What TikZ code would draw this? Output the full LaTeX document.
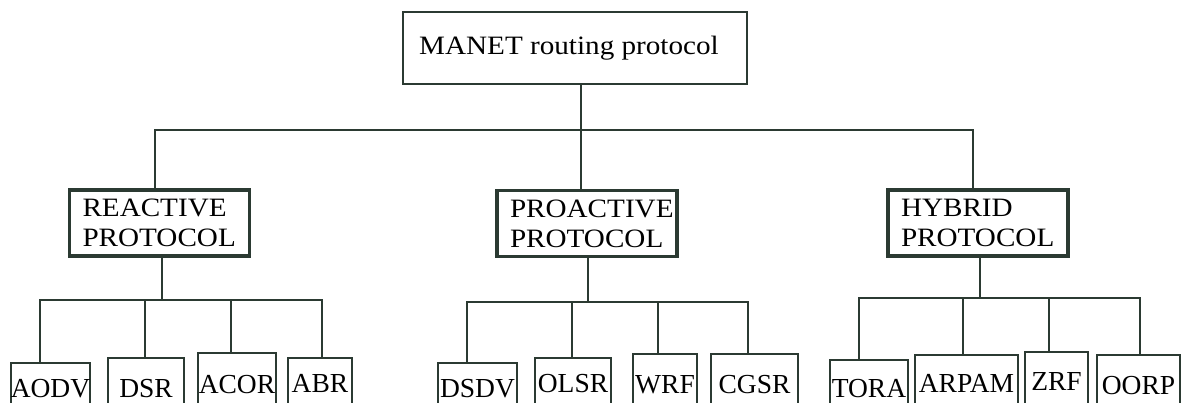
\documentclass[tikz,border=0pt]{standalone}
\usepackage{fontspec}
\setmainfont{Liberation Serif}
\newfontfamily\widefont[FakeStretch=1.1]{Liberation Serif}
\definecolor{ink}{HTML}{2B3A32}
\begin{document}
\begin{tikzpicture}[x=1pt,y=-1pt,
  conn/.style={draw=ink, line width=2pt},
  rootbox/.style={draw=ink, line width=2pt, fill=white, font=\widefont\fontsize{26.5}{30}\selectfont, minimum width=344pt, minimum height=72pt, inner sep=0pt},
  midbox/.style={draw=ink, line width=3.2pt, fill=white, font=\widefont\fontsize{26.5}{30}\selectfont, align=left, text width=154pt, inner xsep=13pt, inner ysep=0pt, minimum height=66pt},
  leaf/.style={draw=ink, line width=2pt, fill=white, font=\fontsize{27.5}{30}\selectfont, inner xsep=0pt, inner ysep=0pt}
]
\clip (0,0) rectangle (1181,403);
\fill[white] (0,0) rectangle (1181,403);

\node[rootbox] (top) at (575,48) {\hspace*{-12pt}MANET routing protocol};

\node[midbox] (rea) at (159.5,223) {REACTIVE\\PROTOCOL};
\node[midbox] (pro) at (587,223.5) {PROACTIVE\\PROTOCOL};
\node[midbox] (hyb) at (978,223) {HYBRID\\PROTOCOL};

\node[leaf, minimum width=77pt, minimum height=51pt] (aodv) at (50.5,388.5) {AODV};
\node[leaf, minimum width=76pt, minimum height=61pt] (dsr) at (146,388.5) {DSR};
\node[leaf, minimum width=78pt, minimum height=64pt] (acor) at (237,385) {ACOR};
\node[leaf, minimum width=64pt, minimum height=51pt] (abr) at (320,383.5) {ABR};

\node[leaf, minimum width=79pt, minimum height=52pt] (dsdv) at (477.5,389) {DSDV};
\node[leaf, minimum width=76pt, minimum height=51pt] (olsr) at (573,383.5) {OLSR};
\node[leaf, minimum width=64pt, minimum height=62pt] (wrf) at (665,385) {WRF};
\node[leaf, minimum width=87pt, minimum height=62pt] (cgsr) at (754.5,385) {CGSR};

\node[leaf, minimum width=78pt, minimum height=58pt] (tora) at (869,389) {TORA};
\node[leaf, minimum width=103pt, minimum height=56pt] (arpam) at (966.5,383) {ARPAM};
\node[leaf, minimum width=63pt, minimum height=58pt] (zrf) at (1056.5,381) {ZRF};
\node[leaf, minimum width=83pt, minimum height=62pt] (oorp) at (1138.5,386) {OORP};

% buses
\coordinate (b0) at (581,130);
\coordinate (b1) at (162,300);
\coordinate (b2) at (588,302);
\coordinate (b3) at (980,298);

% top level
\draw[conn] (top.south -| b0) -- (b0) -- (b0 |- pro.north);
\draw[conn] ([xshift=-4.5pt]rea.north) |- (b0) -| ([xshift=-5pt]hyb.north);

% reactive
\draw[conn] (rea.south -| b1) -- (b1);
\draw[conn] ([xshift=-10.5pt]aodv.north) |- (b1) -| ([xshift=2pt]abr.north);
\draw[conn] ([xshift=-1pt]dsr.north) -- ([xshift=-1pt]dsr.north |- b1);
\draw[conn] ([xshift=-6pt]acor.north) -- ([xshift=-6pt]acor.north |- b1);

% proactive
\draw[conn] (pro.south -| b2) -- (b2);
\draw[conn] ([xshift=-10.5pt]dsdv.north) |- (b2) -| ([xshift=-6.5pt]cgsr.north);
\draw[conn] ([xshift=-1pt]olsr.north) -- ([xshift=-1pt]olsr.north |- b2);
\draw[conn] ([xshift=-7pt]wrf.north) -- ([xshift=-7pt]wrf.north |- b2);

% hybrid
\draw[conn] (hyb.south -| b3) -- (b3);
\draw[conn] ([xshift=-10pt]tora.north) |- (b3) -| ([xshift=1.5pt]oorp.north);
\draw[conn] ([xshift=-3.5pt]arpam.north) -- ([xshift=-3.5pt]arpam.north |- b3);
\draw[conn] ([xshift=-7.5pt]zrf.north) -- ([xshift=-7.5pt]zrf.north |- b3);
\end{tikzpicture}
\end{document}
